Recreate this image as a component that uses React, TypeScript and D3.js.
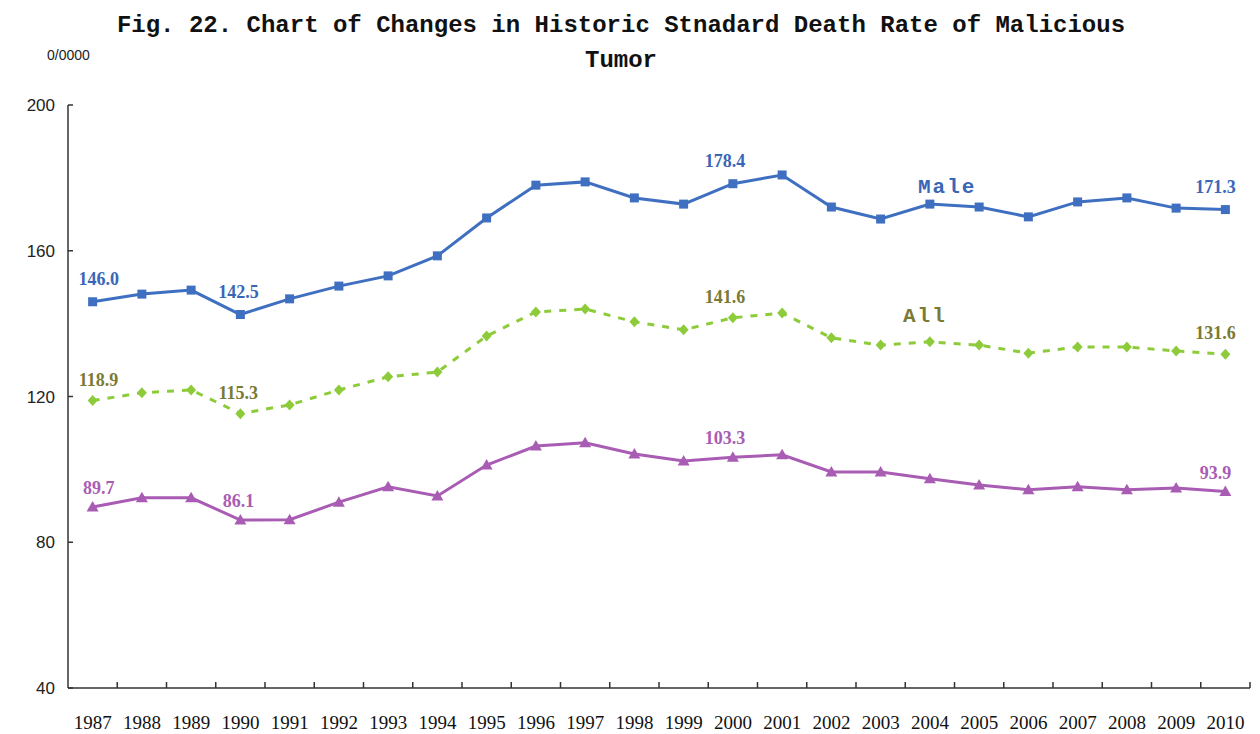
import React from 'react';
import * as d3 from 'd3';

const years = ['1987','1988','1989','1990','1991','1992','1993','1994','1995','1996','1997','1998','1999','2000','2001','2002','2003','2004','2005','2006','2007','2008','2009','2010'];

const male = [146.0,148.1,149.2,142.5,146.8,150.3,153.1,158.6,169.0,178.0,178.9,174.5,172.8,178.4,180.8,172.0,168.7,172.8,172.0,169.3,173.4,174.5,171.7,171.3];
const all = [118.9,121.0,121.8,115.3,117.7,121.8,125.4,126.7,136.6,143.2,144.0,140.5,138.3,141.6,142.9,136.1,134.1,135.0,134.1,131.9,133.6,133.6,132.5,131.6];
const female = [89.7,92.2,92.2,86.1,86.2,91.0,95.2,92.7,101.2,106.4,107.3,104.2,102.3,103.3,104.0,99.3,99.3,97.4,95.7,94.4,95.2,94.4,94.9,93.9];

const yTicks = [40, 80, 120, 160, 200];
const labelIdx = [0, 3, 13, 23];
const labelDx = [6, -2, -8, -10];

const W = 1260, H = 734;
const left = 68, right = 1250, top = 105, bottom = 688;

const x = d3.scaleBand<string>().domain(years).range([left, right]).padding(0);
const y = d3.scaleLinear().domain([40, 200]).range([bottom, top]);

const line = d3.line<number>()
  .x((d, i) => (x(years[i]) as number) + x.bandwidth() / 2)
  .y(d => y(d));

const cx = (i: number) => (x(years[i]) as number) + x.bandwidth() / 2;

const series = [
  { key: 'male', values: male, color: '#3F6FC0', labelColor: '#3A66B8', dash: null, marker: 'square', dy: -17 },
  { key: 'all', values: all, color: '#8DCB3A', labelColor: '#7A7A35', dash: '7,8', marker: 'diamond', dy: -15 },
  { key: 'female', values: female, color: '#A95CB3', labelColor: '#A95CB3', dash: null, marker: 'triangle', dy: -13 },
];

const markerPath = (type: string, px: number, py: number) => {
  if (type === 'square') return `M${px - 4.5},${py - 4.5}h9v9h-9z`;
  if (type === 'diamond') return `M${px},${py - 5.5}L${px + 5},${py}L${px},${py + 5.5}L${px - 5},${py}z`;
  return `M${px},${py - 6}L${px + 6},${py + 4.5}L${px - 6},${py + 4.5}z`;
};

export default function App() {
  const boundaries = years.map((yr) => x(yr) as number).concat([right]).slice(1);
  return (
    <svg width={W} height={H} style={{ position: 'absolute', left: 0, top: 0, background: '#fff' }}>
      <text x={621} y={32} textAnchor="middle" fontFamily="Liberation Mono" fontWeight="bold" fontSize={24} fill="#111">
        Fig. 22. Chart of Changes in Historic Stnadard Death Rate of Malicious
      </text>
      <text x={621} y={67} textAnchor="middle" fontFamily="Liberation Mono" fontWeight="bold" fontSize={24} fill="#111">
        Tumor
      </text>
      <text x={47} y={60} fontFamily="Liberation Sans" fontSize={14} fill="#222">0/0000</text>

      {/* axes */}
      <line x1={left} x2={left} y1={top} y2={bottom} stroke="#333" strokeWidth={1.5} />
      <line x1={left} x2={right} y1={bottom} y2={bottom} stroke="#333" strokeWidth={1.5} />
      {yTicks.map(t => (
        <g key={t}>
          <line x1={left} x2={left + 5} y1={y(t)} y2={y(t)} stroke="#333" strokeWidth={1.5} />
          <text x={55} y={y(t) + 6} textAnchor="end" fontFamily="Liberation Sans" fontSize={17} fill="#222">{t}</text>
        </g>
      ))}
      {boundaries.map((bx, i) => (
        <line key={i} x1={bx} x2={bx} y1={bottom} y2={bottom - 6} stroke="#333" strokeWidth={1.5} />
      ))}
      {years.map((yr, i) => (
        <text key={yr} x={cx(i)} y={729} textAnchor="middle" fontFamily="Liberation Serif" fontSize={19} fill="#111">{yr}</text>
      ))}

      {/* lines */}
      {series.map(s => (
        <g key={s.key}>
          <path d={line(s.values) || ''} fill="none" stroke={s.color} strokeWidth={3} strokeDasharray={s.dash || undefined} />
          {s.values.map((v, i) => (
            <path key={i} d={markerPath(s.marker, cx(i), y(v))} fill={s.color} />
          ))}
          {labelIdx.map((li, k) => (
            <text key={li} x={cx(li) + labelDx[k]} y={y(s.values[li]) + s.dy} textAnchor="middle"
              fontFamily="Liberation Serif" fontWeight="bold" fontSize={18} fill={s.labelColor}>
              {s.values[li].toFixed(1)}
            </text>
          ))}
        </g>
      ))}

      <text x={918} y={193} fontFamily="Liberation Mono" fontWeight="bold" fontSize={21} letterSpacing={2} fill="#3A66B8">Male</text>
      <text x={903} y={322} fontFamily="Liberation Mono" fontWeight="bold" fontSize={21} letterSpacing={2} fill="#7A7A35">All</text>
    </svg>
  );
}
